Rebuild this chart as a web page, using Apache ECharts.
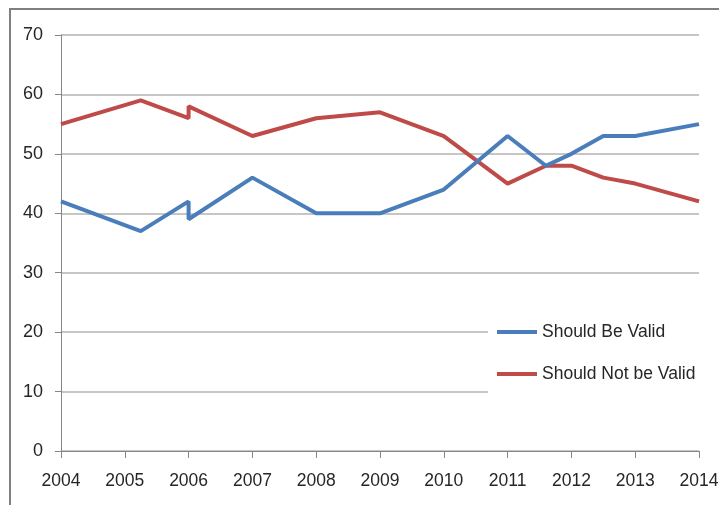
<!DOCTYPE html>
<html>
<head>
<meta charset="utf-8">
<script src="https://cdn.jsdelivr.net/npm/echarts@6/dist/echarts.min.js"></script>
<style>html,body{margin:0;padding:0;background:#fff}#c{width:719px;height:505px}</style>
</head>
<body>
<div id="c"></div>
<script>
const years = [2004, 2005.25, 2006, 2006, 2007, 2008, 2009, 2010, 2011, 2011.6, 2012, 2012.5, 2013, 2014];
const shouldBeValid = [42, 37, 42, 39, 46, 40, 40, 44, 53, 48, 50, 53, 53, 55];
const shouldNotBeValid = [55, 59, 56, 58, 53, 56, 57, 53, 45, 48, 48, 46, 45, 42];
const seriesNames = ['Should Be Valid', 'Should Not be Valid'];
const xTicks = [2004, 2005, 2006, 2007, 2008, 2009, 2010, 2011, 2012, 2013, 2014];
const yTicks = [0, 10, 20, 30, 40, 50, 60, 70];

const FONT = '"Liberation Sans", Arial, sans-serif';
const chart = echarts.init(document.getElementById('c'), null, {renderer: 'canvas'});
const pair = (xs, ys) => xs.map((x, i) => [x, ys[i]]);
chart.setOption({
  animation: false,
  backgroundColor: '#fff',
  graphic: [{
    type: 'rect', shape: {x: 10, y: 9, width: 800, height: 600},
    style: {fill: null, stroke: '#7f7f7f', lineWidth: 2}, z: -1
  }],
  grid: {left: 61, right: 20, top: 35, bottom: 54, outerBoundsMode: 'none', containLabel: false},
  legend: {
    orient: 'vertical', left: 488, top: 298,
    padding: [25, 30, 25, 9],
    backgroundColor: '#fff',
    icon: 'rect', itemWidth: 40, itemHeight: 4, itemGap: 24,
    textStyle: {fontFamily: FONT, fontSize: 17.5, color: '#262626'},
    data: seriesNames
  },
  xAxis: {
    type: 'value', min: xTicks[0], max: xTicks[xTicks.length - 1], interval: 1,
    axisLine: {show: true, lineStyle: {color: '#868686', width: 1}},
    axisTick: {show: true, length: 7, lineStyle: {color: '#868686'}},
    splitLine: {show: false},
    axisLabel: {fontFamily: FONT, fontSize: 17.5, color: '#262626', margin: 21,
      formatter: v => xTicks.includes(v) ? String(v) : ''}
  },
  yAxis: {
    type: 'value', min: yTicks[0], max: yTicks[yTicks.length - 1], interval: 10,
    axisLine: {show: true, lineStyle: {color: '#868686', width: 1}},
    axisTick: {show: true, length: 6, lineStyle: {color: '#868686'}},
    splitLine: {show: true, lineStyle: {color: '#b3b3b3', width: 1.5}},
    axisLabel: {fontFamily: FONT, fontSize: 18, color: '#262626', margin: 18,
      formatter: v => String(v)}
  },
  series: [
    {name: seriesNames[0], type: 'line', data: pair(years, shouldBeValid), showSymbol: false,
     symbol: 'none', color: '#4a7ebb', lineStyle: {width: 4, color: '#4a7ebb'}, z: 3},
    {name: seriesNames[1], type: 'line', data: pair(years, shouldNotBeValid), showSymbol: false,
     symbol: 'none', color: '#be4b48', lineStyle: {width: 4, color: '#be4b48'}, z: 2}
  ]
});
</script>
</body>
</html>
